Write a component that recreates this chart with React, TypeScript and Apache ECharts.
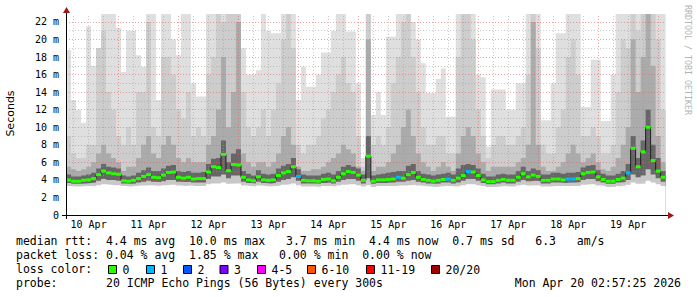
import React, { useEffect, useRef } from 'react';
import * as echarts from 'echarts';

// x axis: hours since Apr 10 00:00; the graph spans Apr 10 02:57:25 .. Apr 20 02:57:25
const X_MIN = 2.957;
const X_MAX = 242.957;
const SLOT_START = 3; // first 2-hour slot starts Apr 10 03:00
const SLOT_HOURS = 2;

const DAY_LABEL_HOURS = [12, 36, 60, 84, 108, 132, 156, 180, 204, 228];
const DAY_LABELS = ['10 Apr', '11 Apr', '12 Apr', '13 Apr', '14 Apr', '15 Apr', '16 Apr', '17 Apr', '18 Apr', '19 Apr'];
const MIDNIGHT_HOURS = [24, 48, 72, 96, 120, 144, 168, 192, 216, 240];
const QUARTER_DAY_HOURS = [6, 12, 18, 30, 36, 42, 54, 60, 66, 78, 84, 90, 102, 108, 114, 126, 132, 138, 150, 156, 162, 174, 180, 186, 198, 204, 210, 222, 228, 234];
const Y_TICKS = [0, 2, 4, 6, 8, 10, 12, 14, 16, 18, 20, 22];
const Y_TICK_LABELS = ['0', '2 m', '4 m', '6 m', '8 m', '10 m', '12 m', '14 m', '16 m', '18 m', '20 m', '22 m'];
const Y_MINOR = [1, 3, 5, 7, 9, 11, 13, 15, 17, 19, 21];

// median rtt (ms) per 2-hour slot
const MEDIAN = [
  4.0, 3.85, 3.85, 3.95, 4.0, 4.15, 4.6, 5.0, 4.8, 4.7,
  4.65, 3.9, 3.85, 3.95, 4.15, 4.4, 4.6, 4.3, 4.25, 4.55,
  4.85, 4.9, 4.3, 4.2, 4.3, 4.1, 4.15, 4.15, 4.9, 5.5,
  5.4, 6.9, 5.05, 5.75, 5.7, 4.3, 4.0, 3.9, 4.35, 4.0,
  3.95, 4.0, 4.5, 4.8, 4.95, 5.5, 4.4, 3.95, 3.9, 3.9,
  3.85, 4.05, 4.1, 3.9, 4.3, 4.7, 4.95, 4.85, 4.55, 3.95,
  6.7, 3.85, 4.0, 4.0, 4.05, 4.1, 4.3, 4.2, 4.6, 4.85,
  4.3, 4.05, 3.95, 3.85, 3.95, 4.05, 4.1, 3.95, 4.2, 4.5,
  4.95, 4.9, 4.5, 4.0, 3.8, 3.8, 3.95, 4.05, 3.95, 3.95,
  4.3, 4.7, 4.35, 4.55, 4.4, 3.95, 3.95, 4.1, 4.1, 4.0,
  4.1, 4.1, 4.15, 4.7, 4.85, 4.9, 4.35, 4.05, 3.85, 3.85,
  4.05, 4.2, 4.8, 7.6, 5.5, 7.2, 10.0, 6.2, 5.0, 4.3,
];
// lost pings (of 20) per slot
const LOSS = [
  0, 0, 0, 0, 0, 0, 0, 0, 0, 0,
  0, 0, 0, 0, 0, 0, 0, 0, 0, 0,
  0, 0, 0, 0, 0, 0, 0, 0, 0, 0,
  0, 0, 0, 0, 0, 0, 0, 0, 0, 0,
  0, 0, 0, 0, 0, 0, 1, 0, 0, 0,
  0, 0, 0, 0, 0, 0, 0, 0, 0, 0,
  0, 0, 0, 0, 0, 0, 1, 0, 0, 0,
  0, 0, 0, 0, 0, 0, 1, 0, 0, 0,
  1, 0, 0, 0, 0, 0, 0, 0, 0, 0,
  0, 0, 0, 0, 0, 0, 0, 0, 0, 0,
  1, 1, 0, 0, 0, 0, 0, 0, 0, 0,
  0, 0, 1, 0, 0, 0, 0, 0, 0, 0,
];
// smoke: slowest ping per slot
const SMOKE_MAX = [
  18.8, 13.1, 12.0, 10.5, 21.5, 17.0, 19.0, 23, 23, 23,
  21.3, 16.3, 21.0, 21.0, 18.2, 16.9, 23, 23, 13.1, 23,
  23, 20, 18.2, 23, 23, 15, 13.5, 13.5, 23, 23,
  23, 23, 23, 23, 23, 19, 16, 16, 16.5, 23,
  21, 20.7, 20.7, 23, 23, 23, 13.1, 16.9, 14.6, 14.6,
  16, 18.5, 18.5, 21, 23, 23, 20.9, 20.9, 15, 6.5,
  23, 11.4, 14, 11.4, 20.3, 20.3, 23, 23, 23, 22,
  20, 17.3, 13.9, 13.9, 15.5, 16.7, 11.2, 11.2, 23, 23,
  23, 23, 16, 15.7, 7.8, 14.3, 14.3, 14.3, 12, 12,
  15, 15, 23, 23, 23, 10.8, 10.8, 15, 20.7, 20.7,
  23, 23, 23, 12.3, 12.3, 17.7, 17.7, 10.7, 10.7, 16,
  23, 23, 23, 23, 23, 23, 23, 23, 23, 23,
];
// smoke: upper light-medium level
const SMOKE_HI3 = [
  9, 7, 6.5, 6.5, 8, 8, 19, 21, 14, 12,
  9, 8, 10, 8, 14, 14, 22, 10, 9, 18,
  18, 16, 12, 11, 14, 9, 10, 9, 16, 18,
  23, 22, 23, 23, 23, 14, 10, 9, 10, 12,
  9, 12, 15, 20, 23, 19, 8, 7, 8, 8,
  9, 11, 12, 14, 16, 18, 15, 14, 9, 5.5,
  23, 8, 9, 8, 10, 15, 18, 22, 23, 18,
  14, 10, 8, 8, 9, 9, 7, 7, 18, 23,
  23, 20, 12, 9, 6.5, 8, 9, 9, 8, 8,
  9, 10, 16, 23, 19, 8, 7, 7, 10, 12,
  18, 20, 16, 9, 9, 10, 9, 7, 7, 8,
  14, 20, 19, 23, 21, 23, 23, 23, 20, 12,
];
// smoke: medium level
const SMOKE_HI2 = [
  5.5, 5.2, 5.0, 5.2, 5.5, 6, 7, 8, 7, 6.5,
  6, 5, 5.5, 5.5, 6.5, 8, 9, 7, 6.5, 8,
  9, 8, 6.5, 6, 6.5, 6, 6, 6, 8, 9,
  12, 18, 10, 14, 22, 7, 6, 5.5, 6, 6,
  5.5, 6, 7, 9, 10, 8, 5.5, 5, 5, 5.2,
  5.2, 5.5, 6, 6.5, 7, 8, 7.5, 7, 5.5, 5,
  20, 5, 5.5, 5.5, 6, 7, 8, 10, 12, 9,
  7, 6, 5.5, 5, 5.5, 6, 5.5, 5, 7, 9,
  10, 9, 7, 6, 5, 5.5, 5.5, 5.5, 5.5, 5.5,
  6, 6.5, 8, 22, 8, 5.5, 5, 5, 5.5, 6,
  7, 8, 7, 6, 6.5, 7, 6, 5.2, 5, 5.5,
  6.5, 8, 10, 20, 14, 18, 23, 17, 9, 6,
];
// smoke: top of the dark core around the median
const SMOKE_HI1 = [
  4.6, 4.4, 4.4, 4.5, 4.6, 4.8, 5.3, 5.8, 5.5, 5.4,
  5.3, 4.5, 4.4, 4.5, 4.8, 5.1, 5.4, 5.0, 5.0, 5.3,
  5.6, 5.7, 5.0, 4.9, 5.0, 4.8, 4.8, 4.9, 5.8, 6.4,
  6.5, 8.5, 6.0, 7.0, 7.5, 5.0, 4.7, 4.5, 5.1, 4.7,
  4.6, 4.7, 5.3, 5.6, 5.8, 6.5, 5.2, 4.6, 4.5, 4.5,
  4.5, 4.7, 4.8, 4.6, 5.0, 5.5, 5.7, 5.5, 5.3, 4.6,
  9.0, 4.5, 4.6, 4.7, 4.8, 4.9, 5.0, 5.0, 5.6, 5.8,
  5.0, 4.7, 4.6, 4.5, 4.6, 4.7, 4.8, 4.6, 5.3, 5.7,
  5.8, 5.7, 5.3, 4.7, 4.4, 4.4, 4.6, 4.7, 4.6, 4.6,
  5.0, 5.5, 5.0, 5.3, 5.1, 4.6, 4.6, 4.8, 4.8, 4.7,
  4.8, 4.8, 4.9, 5.4, 5.6, 5.7, 5.1, 4.7, 4.5, 4.5,
  4.7, 5.0, 5.8, 9.0, 6.5, 8.5, 12, 8.0, 6.5, 5.0,
];
// smoke: bottom of the dark core
const SMOKE_LO2 = [
  3.65, 3.55, 3.55, 3.6, 3.65, 3.7, 3.9, 4.1, 4.0, 4.0,
  3.9, 3.6, 3.55, 3.6, 3.7, 3.8, 3.9, 3.8, 3.75, 3.85,
  4.0, 4.0, 3.8, 3.75, 3.8, 3.7, 3.7, 3.7, 4.1, 4.4,
  4.4, 4.6, 4.2, 4.5, 4.5, 3.8, 3.65, 3.6, 3.8, 3.65,
  3.6, 3.65, 3.8, 4.0, 4.1, 4.3, 3.9, 3.6, 3.6, 3.6,
  3.55, 3.65, 3.7, 3.6, 3.8, 4.0, 4.1, 4.1, 3.9, 3.6,
  4.2, 3.55, 3.65, 3.65, 3.7, 3.7, 3.8, 3.8, 3.9, 4.0,
  3.8, 3.7, 3.6, 3.55, 3.6, 3.7, 3.7, 3.6, 3.7, 3.9,
  4.1, 4.1, 3.9, 3.65, 3.5, 3.5, 3.6, 3.7, 3.6, 3.6,
  3.8, 4.0, 3.85, 3.9, 3.85, 3.6, 3.6, 3.7, 3.7, 3.65,
  3.7, 3.7, 3.75, 4.0, 4.1, 4.1, 3.85, 3.7, 3.55, 3.55,
  3.7, 3.75, 4.0, 4.6, 4.3, 4.5, 5.2, 4.6, 4.2, 3.8,
];
// smoke: fastest ping per slot
const SMOKE_MIN = [
  3.3, 3.25, 3.25, 3.3, 3.3, 3.3, 3.4, 3.5, 3.45, 3.4,
  3.4, 3.3, 3.25, 3.3, 3.35, 3.35, 3.4, 3.35, 3.3, 3.4,
  3.45, 3.45, 3.35, 3.3, 3.35, 3.3, 3.3, 3.3, 3.5, 3.6,
  3.6, 3.7, 3.55, 3.6, 3.6, 3.35, 3.3, 3.25, 3.35, 3.3,
  3.25, 3.3, 3.35, 3.45, 3.5, 3.6, 3.4, 3.25, 3.25, 3.25,
  3.2, 3.3, 3.3, 3.25, 3.35, 3.45, 3.5, 3.5, 3.4, 3.25,
  3.4, 3.2, 3.3, 3.3, 3.3, 3.3, 3.35, 3.35, 3.4, 3.45,
  3.35, 3.3, 3.25, 3.2, 3.25, 3.3, 3.3, 3.25, 3.3, 3.4,
  3.5, 3.5, 3.4, 3.3, 3.2, 3.2, 3.25, 3.3, 3.25, 3.25,
  3.35, 3.45, 3.35, 3.4, 3.35, 3.25, 3.25, 3.3, 3.3, 3.3,
  3.3, 3.3, 3.3, 3.45, 3.5, 3.5, 3.35, 3.3, 3.2, 3.2,
  3.3, 3.35, 3.45, 3.7, 3.55, 3.6, 3.9, 3.7, 3.5, 3.3,
];

const LOSS_LABELS = ['0', '1', '2', '3', '4-5', '6-10', '11-19', '20/20'];
const LOSS_COLORS = ['#26ff00', '#00b8ff', '#0059ff', '#7e00ff', '#ff00ff', '#ff5500', '#ff0000', '#a10000'];
const LOSS_BUCKET_UPPER = [0, 1, 2, 3, 5, 10, 19, 20];

const LEGEND_RTT = 'median rtt:  4.4 ms avg  10.0 ms max   3.7 ms min  4.4 ms now  0.7 ms sd   6.3   am/s';
const LEGEND_LOSS = 'packet loss: 0.04 % avg  1.85 % max   0.00 % min  0.00 % now';
const LEGEND_COLOR_TITLE = 'loss color:';
const LEGEND_PROBE = 'probe:       20 ICMP Echo Pings (56 Bytes) every 300s';
const LEGEND_DATE = 'Mon Apr 20 02:57:25 2026';
const WATERMARK = 'RRDTOOL / TOBI OETIKER';
const Y_NAME = 'Seconds';

// layout (pixels)
const LOSS_BOX_X = [108, 146, 183, 219.5, 257, 307, 366, 431];
const MONO = 'DejaVu Sans Mono';

function lossBucket(n: number) {
  for (let i = 0; i < LOSS_BUCKET_UPPER.length; i++) if (n <= LOSS_BUCKET_UPPER[i]) return i;
  return LOSS_BUCKET_UPPER.length - 1;
}

function slotPairs(values: number[]) {
  const pts = values.map((v, i) => [SLOT_START + SLOT_HOURS * i, v]);
  pts.push([SLOT_START + SLOT_HOURS * values.length, values[values.length - 1]]);
  return pts;
}

function smoke(name: string, values: number[], color: string, z: number) {
  return {
    name, type: 'line', step: 'end', data: slotPairs(values), symbol: 'none', z, silent: true,
    lineStyle: { width: 0, opacity: 0 },
    areaStyle: { color, opacity: 1, origin: 'start' },
    clip: true,
  };
}

export default function App() {
  const ref = useRef<HTMLDivElement>(null);
  useEffect(() => {
    document.body.style.margin = '0';
    if (!ref.current) return;
    const chart = echarts.init(ref.current, undefined, { renderer: 'svg' });
    const minor = { color: 'rgba(150,150,150,0.5)', width: 1, type: [1, 2] };
    const major = { color: 'rgba(230,90,90,0.55)', width: 1, type: [1, 2] };
    const gridLines = [
      ...Y_MINOR.map((v) => ({ yAxis: v, lineStyle: minor })),
      ...QUARTER_DAY_HOURS.map((v) => ({ xAxis: v, lineStyle: minor })),
      ...Y_TICKS.filter((v) => v > 0).map((v) => ({ yAxis: v, lineStyle: major })),
      ...MIDNIGHT_HOURS.map((v) => ({ xAxis: v, lineStyle: major })),
    ];
    const medianData = MEDIAN.map((v, i) => [SLOT_START + SLOT_HOURS * i, v, LOSS[i]]);

    const graphics: any[] = [];
    const rows = [LEGEND_RTT, LEGEND_LOSS, LEGEND_COLOR_TITLE, LEGEND_PROBE];
    rows.forEach((t, i) => {
      graphics.push({ type: 'text', x: 16, y: 241 + 14 * i, silent: true, z: 100,
        style: { text: t, fontFamily: MONO, fontSize: 11.5, fill: '#000', verticalAlign: 'middle', align: 'left' } });
    });
    graphics.push({ type: 'text', x: 681, y: 283, silent: true, z: 100,
      style: { text: LEGEND_DATE, fontFamily: MONO, fontSize: 11.5, fill: '#000', verticalAlign: 'middle', align: 'right' } });
    LOSS_LABELS.forEach((lab, i) => {
      const x = LOSS_BOX_X[i];
      graphics.push({ type: 'rect', silent: true, z: 100, shape: { x: x + 0.5, y: 265.5, width: 8, height: 8 },
        style: { fill: LOSS_COLORS[i], stroke: '#000', lineWidth: 1 } });
      graphics.push({ type: 'text', x: x + 14.5, y: 269.5, silent: true, z: 100,
        style: { text: lab, fontFamily: MONO, fontSize: 11.5, fill: '#000', verticalAlign: 'middle', align: 'left' } });
    });
    graphics.push({ type: 'text', x: 688, y: 5, rotation: -Math.PI / 2, silent: true, z: 100,
      style: { text: WATERMARK, fontFamily: MONO, fontSize: 8.3, fill: '#b4b4b4', verticalAlign: 'middle', align: 'left' } });
    graphics.push({ type: 'text', x: 10.5, y: 113.5, rotation: Math.PI / 2, silent: true, z: 100,
      style: { text: Y_NAME, fontFamily: 'DejaVu Sans', fontSize: 11, fill: '#000', verticalAlign: 'middle', align: 'center' } });
    // axis lines (extended past the plot like rrdtool) and arrow heads
    graphics.push({ type: 'line', silent: true, z: 100, shape: { x1: 62, y1: 215.5, x2: 668, y2: 215.5 }, style: { stroke: '#000', lineWidth: 1 } });
    graphics.push({ type: 'line', silent: true, z: 100, shape: { x1: 66.5, y1: 219, x2: 66.5, y2: 12 }, style: { stroke: '#000', lineWidth: 1 } });
    graphics.push({ type: 'polygon', silent: true, z: 101, shape: { points: [[63, 13], [70, 13], [66.5, 7]] }, style: { fill: '#a01818' } });
    graphics.push({ type: 'polygon', silent: true, z: 101, shape: { points: [[668, 212], [668, 219], [674, 215.5]] }, style: { fill: '#a01818' } });

    chart.setOption({
      animation: false,
      backgroundColor: '#fff',
      grid: { left: 66, right: 31.5, top: 14, bottom: 82, containLabel: false },
      xAxis: {
        type: 'value', min: X_MIN, max: X_MAX, z: 10,
        axisLine: { show: false },
        axisTick: { show: false },
        splitLine: { show: false },
        axisLabel: {
          customValues: DAY_LABEL_HOURS,
          formatter: (v: number) => { const i = DAY_LABEL_HOURS.indexOf(v); return i >= 0 ? DAY_LABELS[i] : ''; },
          fontFamily: MONO, fontSize: 10, color: '#000', margin: 4,
        },
      },
      yAxis: {
        type: 'value', min: 0, max: 22.9, interval: 2, z: 10,
        axisLine: { show: false },
        axisTick: { show: false },
        splitLine: { show: false },
        axisLabel: {
          formatter: (v: number) => { const i = Y_TICKS.indexOf(v); return i >= 0 ? Y_TICK_LABELS[i] : ''; },
          fontFamily: MONO, fontSize: 10, color: '#000', margin: 7, showMaxLabel: false,
        },
      },
      graphic: { elements: graphics },
      series: [
        smoke('max', SMOKE_MAX, '#dfdfdf', 1),
        smoke('hi3', SMOKE_HI3, '#cdcdcd', 2),
        smoke('hi2', SMOKE_HI2, '#ababab', 3),
        smoke('hi1', SMOKE_HI1, '#666666', 4),
        smoke('lo2', SMOKE_LO2, '#c8c8c8', 5),
        smoke('min', SMOKE_MIN, '#ffffff', 6),
        {
          name: 'grid', type: 'line', data: [], z: 7, silent: true,
          markLine: { silent: true, symbol: ['none', 'none'], label: { show: false }, animation: false, data: gridLines },
        },
        {
          name: 'median-line', type: 'line', step: 'end', data: slotPairs(MEDIAN), symbol: 'none', z: 8, silent: true,
          lineStyle: { color: '#202020', width: 1 },
        },
        {
          name: 'median', type: 'custom', z: 9, silent: true, clip: true,
          data: medianData,
          encode: { x: 0, y: 1 },
          renderItem: (params: any, api: any) => {
            const t = api.value(0);
            const v = api.value(1);
            const loss = api.value(2);
            const a = api.coord([t, v]);
            const b = api.coord([t + SLOT_HOURS, v]);
            return {
              type: 'rect',
              shape: { x: a[0], y: a[1] - 1.5, width: b[0] - a[0], height: 3 },
              style: { fill: LOSS_COLORS[lossBucket(loss)] },
            };
          },
        },
      ],
    });
    return () => chart.dispose();
  }, []);
  return <div ref={ref} style={{ width: 697, height: 297 }} />;
}
